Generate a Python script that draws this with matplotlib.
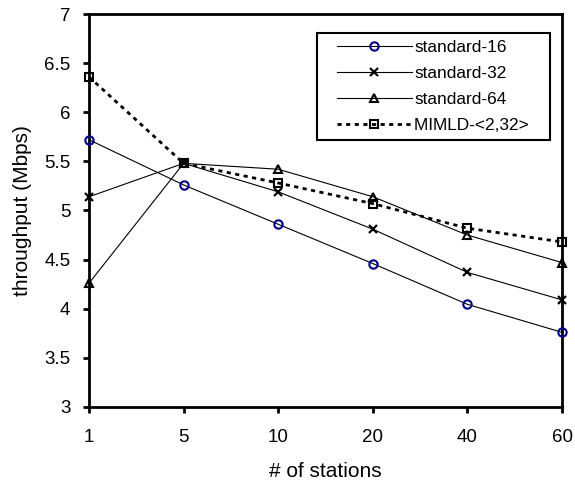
import matplotlib
matplotlib.use("Agg")
import matplotlib.pyplot as plt
from matplotlib.legend_handler import HandlerLine2D

plt.rcParams['font.family'] = ['Liberation Sans', 'DejaVu Sans']

stations = ['1', '5', '10', '20', '40', '60']
standard_16 = [5.72, 5.26, 4.86, 4.46, 4.045, 3.76]
standard_32 = [5.14, 5.48, 5.19, 4.81, 4.37, 4.09]
standard_64 = [4.26, 5.48, 5.42, 5.14, 4.75, 4.47]
mimld = [6.36, 5.48, 5.28, 5.07, 4.82, 4.68]
yticks = [3, 3.5, 4, 4.5, 5, 5.5, 6, 6.5, 7]
ytick_labels = ['3', '3.5', '4', '4.5', '5', '5.5', '6', '6.5', '7']

fig = plt.figure(figsize=(5.75, 4.88), dpi=100)
ax = fig.add_axes([0.1548, 0.166, 0.8226, 0.8053])
x = list(range(len(stations)))

ax.plot(x, standard_16, color='black', lw=0.8, marker='o', ms=6,
        mfc='none', mec='#00008B', mew=1.5, label='standard-16', clip_on=False, zorder=3)
ax.plot(x, standard_32, color='black', lw=0.8, marker='x', ms=6.3,
        mec='black', mew=1.6, label='standard-32', clip_on=False, zorder=3)
ax.plot(x, standard_64, color='black', lw=0.8, marker='^', ms=6.3,
        mfc='none', mec='black', mew=1.5, label='standard-64', clip_on=False, zorder=3)
ax.plot(x, mimld, color='black', lw=2.0, ls=(0, (1.5, 1.6)), marker='s', ms=5.3,
        mfc='none', mec='black', mew=1.5, label='MIMLD-<2,32>   ', clip_on=False, zorder=3)

ax.set_xlim(0, len(stations) - 1)
ax.set_ylim(3, 7)
ax.set_xticks(x)
ax.set_xticklabels(stations)
ax.set_yticks(yticks)
ax.set_yticklabels(ytick_labels)
ax.tick_params(axis='both', labelsize=13.5, width=2, length=4.5, direction='out')
ax.tick_params(axis='x', pad=11)
ax.tick_params(axis='y', pad=9)
for s in ax.spines.values():
    s.set_linewidth(2)

ax.set_xlabel('# of stations', fontsize=15, labelpad=12)
ax.set_ylabel('throughput (Mbps)', fontsize=15, labelpad=9)

hm = HandlerLine2D(xpad=0.76)
leg = ax.legend(loc='upper right', bbox_to_anchor=(0.9746, 0.9524), fontsize=12.4,
                handlelength=5.1, handletextpad=0.15, fancybox=False,
                framealpha=1, borderpad=0.4, labelspacing=0.65,
                borderaxespad=0, handler_map={matplotlib.lines.Line2D: hm})
leg.get_frame().set_edgecolor('black')
leg.get_frame().set_linewidth(1.5)

fig.savefig('out.png', dpi=100)
